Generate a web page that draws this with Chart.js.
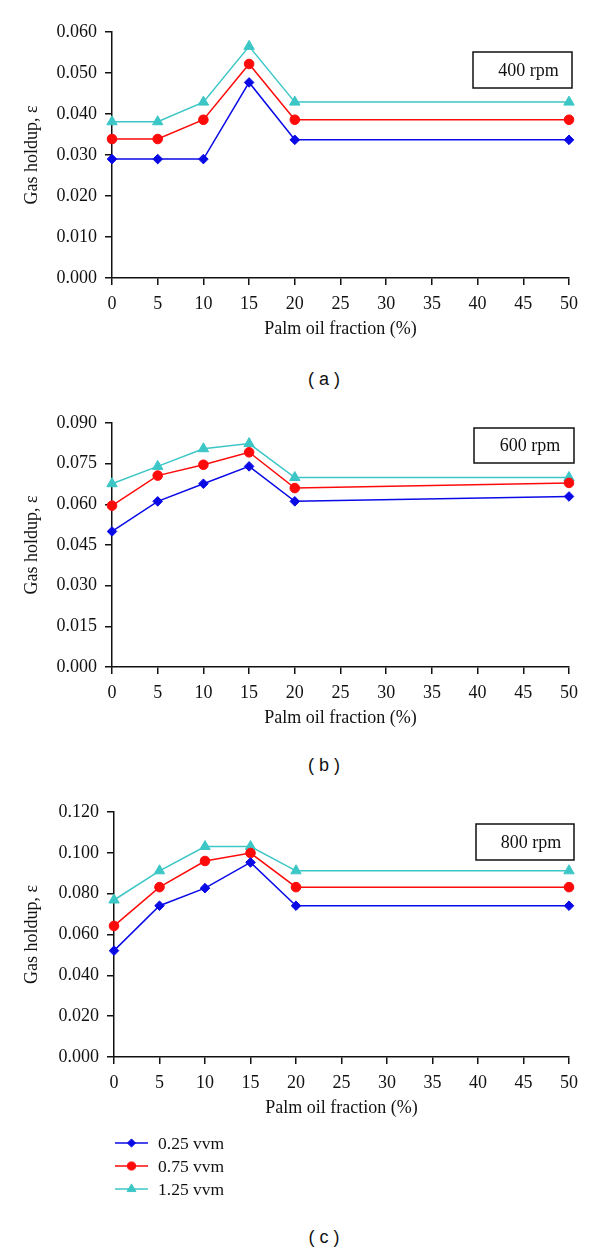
<!DOCTYPE html>
<html>
<head>
<meta charset="utf-8">
<script src="https://cdn.jsdelivr.net/npm/chart.js@4.4.0/dist/chart.umd.min.js"></script>
<style>
  body { margin: 0; background: #fff; }
  #page { position: relative; width: 600px; height: 1252px; overflow: hidden; background: #fff; }
  canvas { position: absolute; left: 0; }
  .cap { position: absolute; left: 274px; width: 100px; text-align: center; font: 18px "Liberation Sans", Arial, sans-serif; color: #111; line-height: 20px; }
</style>
</head>
<body>
<div id="page">
  <canvas id="chartA" width="600" height="350" style="top:0px"></canvas>
  <canvas id="chartB" width="600" height="350" style="top:389px"></canvas>
  <canvas id="chartC" width="600" height="440" style="top:779px"></canvas>
  <div class="cap" style="top:369px">( a )</div>
  <div class="cap" style="top:755px">( b )</div>
  <div class="cap" style="top:1227px">( c )</div>
</div>
<script>
// x categories: palm oil fraction (%)
const fractions = ['0', '5', '10', '15', '20', '25', '30', '35', '40', '45', '50'];
const seriesNames = ['0.25 vvm', '0.75 vvm', '1.25 vvm'];

// (a) 400 rpm
const a025 = [0.0290, 0.0290, 0.0290, 0.0477, 0.0337, null, null, null, null, null, 0.0337];
const a075 = [0.0339, 0.0339, 0.0386, 0.0522, 0.0386, null, null, null, null, null, 0.0386];
const a125 = [0.0381, 0.0381, 0.0429, 0.0565, 0.0429, null, null, null, null, null, 0.0429];
const aTicks = [0, 0.010, 0.020, 0.030, 0.040, 0.050, 0.060];

// (b) 600 rpm
const b025 = [0.0500, 0.0611, 0.0676, 0.0740, 0.0611, null, null, null, null, null, 0.0629];
const b075 = [0.0595, 0.0706, 0.0746, 0.0792, 0.0660, null, null, null, null, null, 0.0679];
const b125 = [0.0676, 0.0740, 0.0805, 0.0824, 0.0699, null, null, null, null, null, 0.0699];
const bTicks = [0, 0.015, 0.030, 0.045, 0.060, 0.075, 0.090];

// (c) 800 rpm
const c025 = [0.0521, 0.0741, 0.0827, 0.0953, 0.0741, null, null, null, null, null, 0.0741];
const c075 = [0.0642, 0.0832, 0.0960, 0.0999, 0.0832, null, null, null, null, null, 0.0832];
const c125 = [0.0769, 0.0912, 0.1031, 0.1031, 0.0912, null, null, null, null, null, 0.0912];
const cTicks = [0, 0.020, 0.040, 0.060, 0.080, 0.100, 0.120];

const SERIF = '"Liberation Serif", "Times New Roman", serif';
const INK = '#111';
Chart.defaults.font.family = SERIF;
Chart.defaults.font.size = 18;
Chart.defaults.color = INK;

const styles = [
  { color: '#0a0ae6', point: 'rectRot', r: 4.8 },
  { color: '#ff0a0a', point: 'circle', r: 4.8 },
  { color: '#3cc6c6', point: 'triangle', r: 6 }
];

function makeSets(lists) {
  return lists.map((vals, i) => ({
    label: seriesNames[i],
    data: vals,
    borderColor: styles[i].color,
    backgroundColor: styles[i].color,
    pointBackgroundColor: styles[i].color,
    pointBorderColor: styles[i].color,
    pointStyle: styles[i].point,
    pointRadius: styles[i].r,
    pointBorderWidth: 1,
    borderWidth: 1.5,
    tension: 0,
    spanGaps: true
  }));
}

//Ramcek s otackami
const rpmBox = {
  id: 'rpmBox',
  afterDraw(chart, args, o) {
    const ctx = chart.ctx;
    ctx.save();
    ctx.strokeStyle = INK;
    ctx.lineWidth = 1.5;
    ctx.strokeRect(o.x, o.y, o.w, o.h);
    ctx.fillStyle = INK;
    ctx.font = '18px ' + SERIF;
    ctx.textAlign = 'center';
    ctx.textBaseline = 'middle';
    ctx.fillText(o.text, o.x + o.w * 0.56, o.y + o.h / 2 + 1);
    ctx.restore();
  }
};

//Legenda pod grafom (c)
const sideLegend = {
  id: 'sideLegend',
  afterDraw(chart, args, o) {
    if (!o.show) return;
    const ctx = chart.ctx;
    chart.data.datasets.forEach((ds, i) => {
      const y = o.y + i * o.gap;
      ctx.save();
      ctx.strokeStyle = ds.borderColor;
      ctx.lineWidth = ds.borderWidth;
      ctx.beginPath();
      ctx.moveTo(o.x, y);
      ctx.lineTo(o.x + o.len, y);
      ctx.stroke();
      ctx.fillStyle = ds.pointBackgroundColor;
      ctx.strokeStyle = ds.pointBorderColor;
      ctx.lineWidth = 1;
      Chart.helpers.drawPoint(ctx, { pointStyle: ds.pointStyle, radius: ds.pointRadius * 0.85, borderWidth: 1, rotation: 0 }, o.x + o.len / 2, y);
      ctx.fillStyle = INK;
      ctx.font = '17.5px ' + SERIF;
      ctx.textAlign = 'left';
      ctx.textBaseline = 'middle';
      ctx.fillText(ds.label, o.textX, y + 1);
      ctx.restore();
    });
  }
};

function makeChart(id, lists, tickVals, maxY, axisW, padTop, padBottom, box, legend) {
  return new Chart(document.getElementById(id), {
    type: 'line',
    data: { labels: fractions, datasets: makeSets(lists) },
    plugins: [rpmBox, sideLegend],
    options: {
      responsive: false,
      animation: false,
      layout: { padding: { top: padTop, right: 31, bottom: padBottom, left: 0 } },
      plugins: {
        legend: { display: false },
        tooltip: { enabled: false },
        rpmBox: box,
        sideLegend: legend
      },
      scales: {
        x: {
          type: 'category',
          offset: false,
          afterFit: s => { s.height = 72; },
          border: { display: true, color: INK, width: 1.5 },
          grid: { drawOnChartArea: false, drawTicks: true, tickLength: 7, color: INK, lineWidth: 1.5 },
          ticks: { padding: 8, autoSkip: false, maxRotation: 0, color: INK },
          title: { display: true, text: 'Palm oil fraction (%)', color: INK, font: { size: 18 }, padding: { top: 0, bottom: 10 } }
        },
        y: {
          min: 0,
          max: maxY,
          afterFit: s => { s.width = axisW; },
          afterBuildTicks: s => { s.ticks = tickVals.map(v => ({ value: v })); },
          border: { display: true, color: INK, width: 1.5 },
          grid: { drawOnChartArea: false, drawTicks: true, tickLength: 7, color: INK, lineWidth: 1.5 },
          ticks: { padding: 8, color: INK, callback: v => Number(v).toFixed(3) },
          title: { display: true, text: 'Gas holdup, ε', color: INK, font: { size: 18 }, padding: { top: 21, bottom: 0 } }
        }
      }
    }
  });
}

makeChart('chartA', [a025, a075, a125], aTicks, 0.060, 112, 32, 0,
  { text: '400 rpm', x: 473, y: 52, w: 99, h: 36 }, { show: false });
makeChart('chartB', [b025, b075, b125], bTicks, 0.090, 112, 34, 0,
  { text: '600 rpm', x: 474, y: 39, w: 100, h: 35 }, { show: false });
makeChart('chartC', [c025, c075, c125], cTicks, 0.120, 114, 33, 90,
  { text: '800 rpm', x: 476, y: 45, w: 98, h: 36 }, { show: true, x: 115, len: 33, y: 364, gap: 23, textX: 158 });
</script>
</body>
</html>
